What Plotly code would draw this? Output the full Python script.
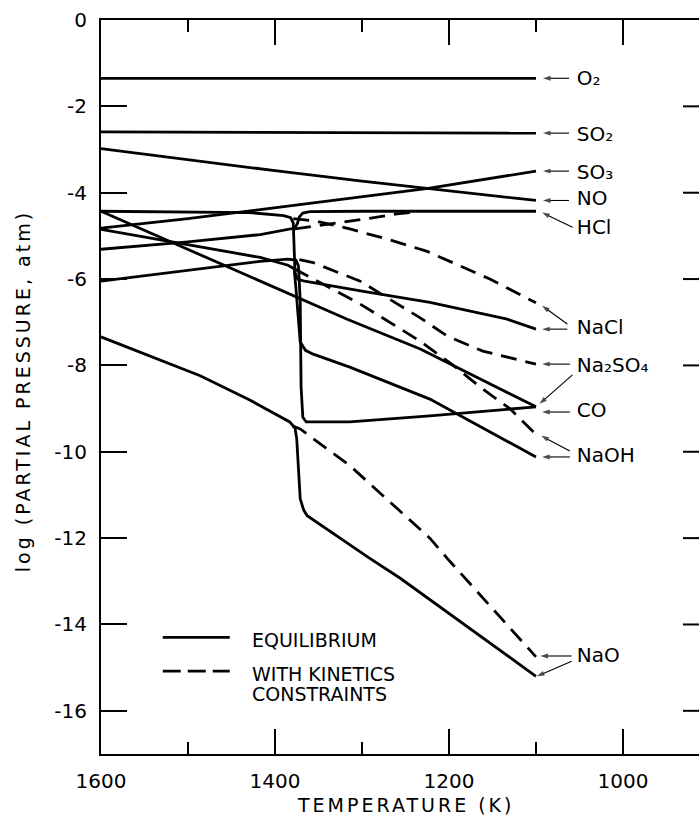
import plotly.graph_objects as go

# ---------------- data: temperature (K) vs log10 partial pressure (atm) ----------------
o2_T = [1600, 1100]
o2_eq = [-1.35, -1.35]

so2_T = [1600, 1100]
so2_eq = [-2.59, -2.62]

no_T = [1600, 1500, 1400, 1300, 1200, 1100]
no_eq = [-2.98, -3.24, -3.49, -3.73, -3.96, -4.18]

so3_T = [1600, 1500, 1417, 1315, 1224, 1100]
so3_eq = [-4.82, -4.60, -4.39, -4.13, -3.90, -3.50]

hcl_T = [1600, 1500, 1417, 1386, 1377, 1374, 1372, 1368, 1360, 1300, 1100]
hcl_eq = [-5.31, -5.14, -4.97, -4.86, -4.82, -4.70, -4.56, -4.47, -4.44, -4.43, -4.43]
hcl_kin_T = [1377, 1340, 1300, 1260, 1240]
hcl_kin = [-4.84, -4.74, -4.62, -4.49, -4.45]

nacl_T = [1600, 1500, 1430, 1390, 1382, 1379, 1378, 1377, 1374, 1366, 1356, 1300, 1222, 1133, 1100]
nacl_eq = [-4.43, -4.45, -4.46, -4.53, -4.58, -4.70, -5.20, -5.85, -6.00, -6.05, -6.08, -6.28, -6.54, -6.93, -7.16]
nacl_kin_T = [1379, 1352, 1314, 1270, 1225, 1153, 1100]
nacl_kin = [-4.60, -4.66, -4.84, -5.08, -5.36, -6.00, -6.55]

na2so4_T = [1600, 1500, 1417, 1385, 1376, 1373, 1371, 1370, 1368, 1364, 1314, 1222, 1100]
na2so4_eq = [-6.05, -5.80, -5.59, -5.54, -5.56, -5.70, -6.50, -8.50, -9.20, -9.31, -9.31, -9.17, -8.96]
na2so4_kin_T = [1372, 1356, 1302, 1233, 1202, 1161, 1100]
na2so4_kin = [-5.55, -5.62, -6.05, -6.90, -7.32, -7.67, -7.97]

co_T = [1600, 1500, 1429, 1317, 1233, 1100]
co_eq = [-4.43, -5.31, -5.94, -6.93, -7.62, -8.96]

naoh_T = [1600, 1500, 1417, 1385, 1378, 1376, 1374, 1371, 1365, 1356, 1314, 1222, 1100]
naoh_eq = [-4.85, -5.20, -5.50, -5.68, -5.76, -6.20, -6.70, -7.46, -7.65, -7.74, -8.04, -8.78, -10.12]
naoh_kin_T = [1378, 1329, 1302, 1233, 1195, 1161, 1130, 1100]
naoh_kin = [-5.76, -6.30, -6.58, -7.44, -8.00, -8.55, -9.00, -9.60]

nao_T = [1600, 1486, 1429, 1383, 1377, 1375, 1373, 1371, 1367, 1363, 1291, 1256, 1100]
nao_eq = [-7.34, -8.24, -8.80, -9.31, -9.45, -9.70, -10.40, -11.09, -11.35, -11.48, -12.47, -12.93, -15.20]
nao_kin_T = [1380, 1371, 1356, 1314, 1222, 1202, 1100]
nao_kin = [-9.40, -9.47, -9.70, -10.32, -12.00, -12.47, -14.75]

species = ["O\u2082", "SO\u2082", "SO\u2083", "NO", "HCl", "NaCl",
           "Na\u2082SO\u2084", "CO", "NaOH", "NaO"]

x_ticks = [1600, 1400, 1200, 1000]
x_minor = [1500, 1300, 1100, 900]
y_ticks = [0, -2, -4, -6, -8, -10, -12, -14, -16]
y_ticktext = ["0", "-2", "-4", "-6", "-8", "-10", "-12", "-14", "-16"]

# ---------------- figure ----------------
FONT = "DejaVu Sans"
LW = 2.8
DASH = "16px,9px"
PLOT_W = 598  # plot-area width in px (used for the right-hand tick length)

fig = go.Figure()

solid = [(o2_T, o2_eq), (so2_T, so2_eq), (no_T, no_eq), (so3_T, so3_eq),
         (hcl_T, hcl_eq), (nacl_T, nacl_eq), (na2so4_T, na2so4_eq),
         (co_T, co_eq), (naoh_T, naoh_eq), (nao_T, nao_eq)]
dashed = [(hcl_kin_T, hcl_kin), (nacl_kin_T, nacl_kin), (na2so4_kin_T, na2so4_kin),
          (naoh_kin_T, naoh_kin), (nao_kin_T, nao_kin)]

for t, v in solid:
    fig.add_trace(go.Scatter(x=t, y=v, mode="lines",
                             line=dict(color="black", width=LW), showlegend=False,
                             hoverinfo="skip"))
for t, v in dashed:
    fig.add_trace(go.Scatter(x=t, y=v, mode="lines",
                             line=dict(color="black", width=LW, dash=DASH), showlegend=False,
                             hoverinfo="skip"))


def arrow(xh, yh, xt, yt):
    """Thin pointer from a label towards the end of a curve."""
    fig.add_trace(go.Scatter(
        x=[xt, xh], y=[yt, yh], mode="lines+markers",
        line=dict(color="black", width=1.1),
        marker=dict(symbol=["circle", "arrow"], size=[0, 8], angleref="previous",
                    color="black", line=dict(width=0)),
        showlegend=False, hoverinfo="skip"))


# pointers from the labels to the curve ends
arrow(1092, o2_eq[-1], 1062, o2_eq[-1])
arrow(1092, so2_eq[-1], 1062, so2_eq[-1])
arrow(1092, so3_eq[-1], 1062, so3_eq[-1])
arrow(1092, no_eq[-1], 1062, no_eq[-1])
arrow(1093, hcl_eq[-1] - 0.03, 1058, -4.80)
arrow(1093, nacl_eq[-1], 1064, nacl_eq[-1])
arrow(1093, nacl_kin[-1] - 0.07, 1064, -7.04)
arrow(1093, na2so4_kin[-1], 1061, na2so4_kin[-1])
arrow(1096, na2so4_eq[-1] + 0.07, 1058, -8.22)
arrow(1093, -9.08, 1061, -9.08)
arrow(1093, naoh_eq[-1], 1061, naoh_eq[-1])
arrow(1094, naoh_kin[-1] - 0.03, 1061, -9.98)
arrow(1095, nao_kin[-1] + 0.02, 1059, nao_kin[-1] + 0.02)
arrow(1099, nao_eq[-1], 1059, -14.85)

# species names beside the pointers
label_y = [-1.40, -2.68, -3.56, -4.18, -4.85, -7.16, -8.04, -9.08, -10.12, -14.76]
fig.add_trace(go.Scatter(
    x=[1053] * len(species), y=label_y, mode="text", text=species,
    textposition="middle right",
    textfont=dict(family=FONT, size=20, color="black"),
    showlegend=False, hoverinfo="skip"))

# key
fig.add_shape(type="line", x0=1529, x1=1452, y0=-14.3, y1=-14.3, xref="x", yref="y",
              line=dict(color="black", width=LW))
fig.add_shape(type="line", x0=1529, x1=1452, y0=-15.08, y1=-15.08, xref="x", yref="y",
              line=dict(color="black", width=LW, dash="18px,7px"))
for txt, yy in [("EQUILIBRIUM", -14.36), ("WITH KINETICS", -15.14), ("CONSTRAINTS", -15.60)]:
    fig.add_annotation(x=1429, y=yy, xref="x", yref="y", text=txt, showarrow=False,
                       xanchor="left", yanchor="middle",
                       font=dict(family=FONT, size=19, color="black"))

# tick marks along the right-hand side of the frame
for v in y_ticks[1:]:
    fig.add_shape(type="line", xref="paper", yref="y", x0=1 - 16 / PLOT_W, x1=1,
                  y0=v, y1=v, line=dict(color="black", width=2))

# axis titles
fig.add_annotation(x=1250, y=-0.0695, xref="x", yref="paper",
                   text='<span style="letter-spacing:3px">TEMPERATURE (K)</span>',
                   showarrow=False, xanchor="center", yanchor="middle",
                   font=dict(family=FONT, size=19, color="black"))
fig.add_annotation(x=-0.130, y=0.4946, xref="paper", yref="paper",
                   text='<span style="letter-spacing:3px">log (PARTIAL PRESSURE, atm)</span>',
                   showarrow=False, xanchor="center", yanchor="middle", textangle=-90,
                   font=dict(family=FONT, size=19, color="black"))

fig.update_layout(
    width=699, height=821,
    margin=dict(l=101, r=0, t=20, b=67),
    paper_bgcolor="white", plot_bgcolor="white",
    showlegend=False,
    xaxis=dict(range=[1600, 912.6], tickvals=x_ticks, ticktext=[str(v) for v in x_ticks],
               ticks="inside", ticklen=25, tickwidth=2, tickcolor="black",
               minor=dict(tickvals=x_minor, ticks="inside", ticklen=12, tickwidth=2,
                          tickcolor="black", showgrid=False),
               showline=True, linewidth=2, linecolor="black", mirror="ticks",
               showgrid=False, zeroline=False, ticklabelstandoff=8,
               tickfont=dict(family=FONT, size=20, color="black")),
    yaxis=dict(range=[-17, 0], tickvals=y_ticks, ticktext=y_ticktext,
               ticks="inside", ticklen=26, tickwidth=2, tickcolor="black",
               showline=True, linewidth=2, linecolor="black", mirror=False,
               showgrid=False, zeroline=False, ticklabelstandoff=8,
               tickfont=dict(family=FONT, size=20, color="black")),
)

fig.write_html("out.html")
